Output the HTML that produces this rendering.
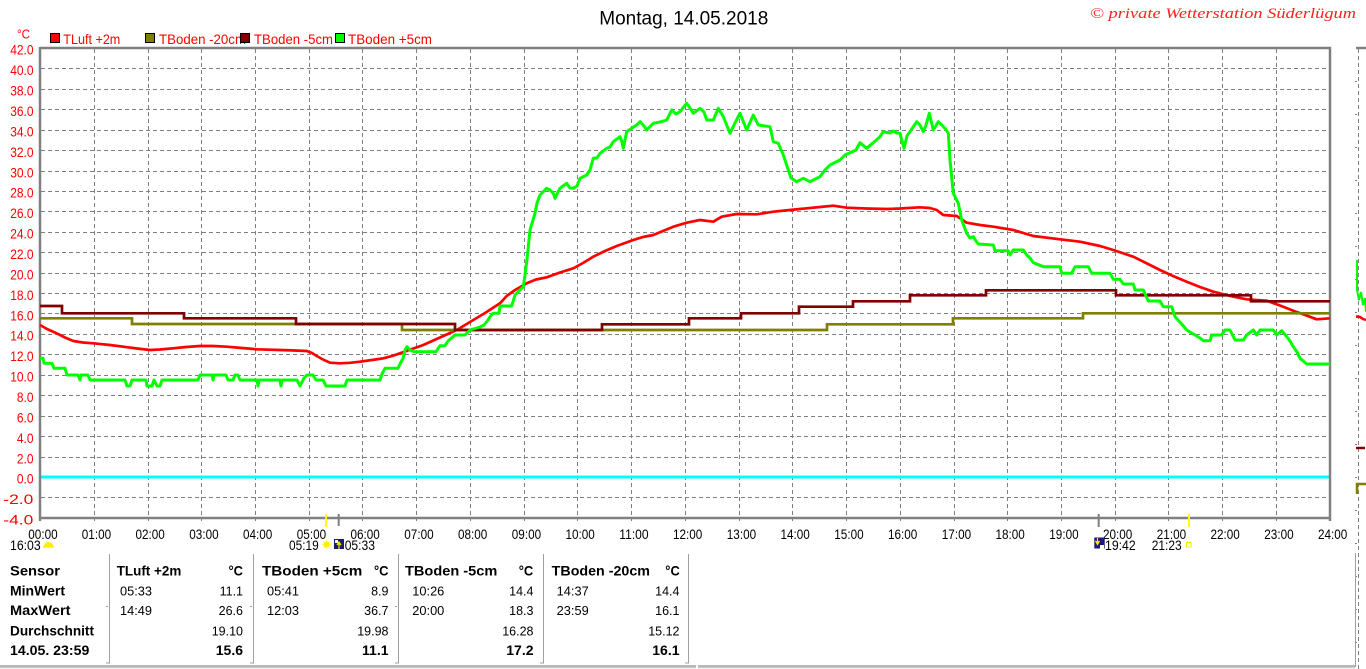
<!DOCTYPE html>
<html>
<head>
<meta charset="utf-8">
<style>
html,body{margin:0;padding:0;background:#fff;}
body{width:1366px;height:669px;overflow:hidden;}
svg{display:block;}
text{font-family:"Liberation Sans",Arial,sans-serif;}
</style>
</head>
<body>
<svg width="1366" height="669" viewBox="0 0 1366 669" xmlns="http://www.w3.org/2000/svg">
<rect x="0" y="0" width="1366" height="669" fill="#fff"/>

<!-- Title -->
<text x="599.3" y="24.5" font-size="19.5" fill="#000" textLength="169" lengthAdjust="spacingAndGlyphs">Montag, 14.05.2018</text>
<text x="1090" y="18" font-size="15" fill="#ff2020" font-style="italic" style="font-family:'Liberation Serif',serif" textLength="266" lengthAdjust="spacingAndGlyphs">© private Wetterstation Süderlügum</text>

<!-- unit -->
<text x="17" y="38.5" font-size="13" fill="#ff0000" textLength="13" lengthAdjust="spacingAndGlyphs">°C</text>

<!-- Legend -->
<rect x="50.5" y="33.5" width="9" height="9" fill="#ff0000" stroke="#000" stroke-width="1"/>
<text x="63.3" y="44" font-size="14" fill="#ff0000" textLength="57" lengthAdjust="spacingAndGlyphs">TLuft +2m</text>
<rect x="145.5" y="33.5" width="9" height="9" fill="#808000" stroke="#000" stroke-width="1"/>
<text x="159" y="44" font-size="14" fill="#ff0000" textLength="87" lengthAdjust="spacingAndGlyphs">TBoden -20cm</text>
<rect x="240.5" y="33.5" width="9" height="9" fill="#800000" stroke="#000" stroke-width="1"/>
<text x="254" y="44" font-size="14" fill="#ff0000" textLength="79" lengthAdjust="spacingAndGlyphs">TBoden -5cm</text>
<rect x="335.5" y="33.5" width="9" height="9" fill="#00ff00" stroke="#000" stroke-width="1"/>
<text x="348" y="44" font-size="14" fill="#ff0000" textLength="84" lengthAdjust="spacingAndGlyphs">TBoden +5cm</text>

<!-- Horizontal grid -->
<g stroke="#808080" stroke-width="1" stroke-dasharray="4,3" fill="none">
<line x1="41" y1="68.5" x2="1329" y2="68.5"/>
<line x1="41" y1="89.5" x2="1329" y2="89.5"/>
<line x1="41" y1="109.5" x2="1329" y2="109.5"/>
<line x1="41" y1="130.5" x2="1329" y2="130.5"/>
<line x1="41" y1="150.5" x2="1329" y2="150.5"/>
<line x1="41" y1="171.5" x2="1329" y2="171.5"/>
<line x1="41" y1="191.5" x2="1329" y2="191.5"/>
<line x1="41" y1="211.5" x2="1329" y2="211.5"/>
<line x1="41" y1="232.5" x2="1329" y2="232.5"/>
<line x1="41" y1="252.5" x2="1329" y2="252.5"/>
<line x1="41" y1="273.5" x2="1329" y2="273.5"/>
<line x1="41" y1="293.5" x2="1329" y2="293.5"/>
<line x1="41" y1="313.5" x2="1329" y2="313.5"/>
<line x1="41" y1="334.5" x2="1329" y2="334.5"/>
<line x1="41" y1="354.5" x2="1329" y2="354.5"/>
<line x1="41" y1="375.5" x2="1329" y2="375.5"/>
<line x1="41" y1="395.5" x2="1329" y2="395.5"/>
<line x1="41" y1="416.5" x2="1329" y2="416.5"/>
<line x1="41" y1="436.5" x2="1329" y2="436.5"/>
<line x1="41" y1="457.5" x2="1329" y2="457.5"/>
<line x1="41" y1="497.5" x2="1329" y2="497.5"/>
</g>
<!-- Vertical grid -->
<g stroke="#808080" stroke-width="1" stroke-dasharray="4,3" fill="none">
<line x1="94.5" y1="49" x2="94.5" y2="521"/>
<line x1="148.5" y1="49" x2="148.5" y2="521"/>
<line x1="201.5" y1="49" x2="201.5" y2="521"/>
<line x1="255.5" y1="49" x2="255.5" y2="521"/>
<line x1="309.5" y1="49" x2="309.5" y2="521"/>
<line x1="362.5" y1="49" x2="362.5" y2="521"/>
<line x1="416.5" y1="49" x2="416.5" y2="521"/>
<line x1="470.5" y1="49" x2="470.5" y2="521"/>
<line x1="524.5" y1="49" x2="524.5" y2="521"/>
<line x1="577.5" y1="49" x2="577.5" y2="521"/>
<line x1="631.5" y1="49" x2="631.5" y2="521"/>
<line x1="685.5" y1="49" x2="685.5" y2="521"/>
<line x1="739.5" y1="49" x2="739.5" y2="521"/>
<line x1="792.5" y1="49" x2="792.5" y2="521"/>
<line x1="846.5" y1="49" x2="846.5" y2="521"/>
<line x1="900.5" y1="49" x2="900.5" y2="521"/>
<line x1="954.5" y1="49" x2="954.5" y2="521"/>
<line x1="1007.5" y1="49" x2="1007.5" y2="521"/>
<line x1="1061.5" y1="49" x2="1061.5" y2="521"/>
<line x1="1115.5" y1="49" x2="1115.5" y2="521"/>
<line x1="1168.5" y1="49" x2="1168.5" y2="521"/>
<line x1="1222.5" y1="49" x2="1222.5" y2="521"/>
<line x1="1276.5" y1="49" x2="1276.5" y2="521"/>
</g>

<!-- zero line -->
<line x1="41" y1="477" x2="1329" y2="477" stroke="#00ffff" stroke-width="3"/>

<!-- Axes frame -->
<g stroke="#808080" stroke-width="2.5" fill="none">
<line x1="40" y1="48" x2="1331" y2="48"/>
<line x1="40" y1="47" x2="40" y2="521"/>
<line x1="40" y1="518" x2="1331" y2="518"/>
<line x1="1330" y1="47" x2="1330" y2="521"/>
</g>

<!-- Y labels -->
<g font-size="14" fill="#ff0000">
<text x="10.2" y="54.5" textLength="23.3" lengthAdjust="spacingAndGlyphs">42.0</text>
<text x="10.2" y="75" textLength="23.3" lengthAdjust="spacingAndGlyphs">40.0</text>
<text x="10.2" y="95.5" textLength="23.3" lengthAdjust="spacingAndGlyphs">38.0</text>
<text x="10.2" y="116" textLength="23.3" lengthAdjust="spacingAndGlyphs">36.0</text>
<text x="10.2" y="136.5" textLength="23.3" lengthAdjust="spacingAndGlyphs">34.0</text>
<text x="10.2" y="157" textLength="23.3" lengthAdjust="spacingAndGlyphs">32.0</text>
<text x="10.2" y="177.5" textLength="23.3" lengthAdjust="spacingAndGlyphs">30.0</text>
<text x="10.2" y="197.5" textLength="23.3" lengthAdjust="spacingAndGlyphs">28.0</text>
<text x="10.2" y="218" textLength="23.3" lengthAdjust="spacingAndGlyphs">26.0</text>
<text x="10.2" y="238.5" textLength="23.3" lengthAdjust="spacingAndGlyphs">24.0</text>
<text x="10.2" y="259" textLength="23.3" lengthAdjust="spacingAndGlyphs">22.0</text>
<text x="10.2" y="279.5" textLength="23.3" lengthAdjust="spacingAndGlyphs">20.0</text>
<text x="10.2" y="300" textLength="23.3" lengthAdjust="spacingAndGlyphs">18.0</text>
<text x="10.2" y="320.5" textLength="23.3" lengthAdjust="spacingAndGlyphs">16.0</text>
<text x="10.2" y="340.5" textLength="23.3" lengthAdjust="spacingAndGlyphs">14.0</text>
<text x="10.2" y="361" textLength="23.3" lengthAdjust="spacingAndGlyphs">12.0</text>
<text x="10.2" y="381.5" textLength="23.3" lengthAdjust="spacingAndGlyphs">10.0</text>
<text x="16.9" y="402" textLength="16.6" lengthAdjust="spacingAndGlyphs">8.0</text>
<text x="16.9" y="422.5" textLength="16.6" lengthAdjust="spacingAndGlyphs">6.0</text>
<text x="16.9" y="443" textLength="16.6" lengthAdjust="spacingAndGlyphs">4.0</text>
<text x="16.9" y="463.5" textLength="16.6" lengthAdjust="spacingAndGlyphs">2.0</text>
<text x="16.9" y="483.5" textLength="16.6" lengthAdjust="spacingAndGlyphs">0.0</text>
<text x="3.3" y="504" textLength="30" lengthAdjust="spacingAndGlyphs">-2.0</text>
<text x="3.3" y="524.5" textLength="30" lengthAdjust="spacingAndGlyphs">-4.0</text>
</g>

<!-- X labels -->
<g font-size="14" fill="#000">
<text x="28.3" y="539" textLength="29.3" lengthAdjust="spacingAndGlyphs">00:00</text>
<text x="81.8" y="539" textLength="29.3" lengthAdjust="spacingAndGlyphs">01:00</text>
<text x="135.5" y="539" textLength="29.3" lengthAdjust="spacingAndGlyphs">02:00</text>
<text x="189.3" y="539" textLength="29.3" lengthAdjust="spacingAndGlyphs">03:00</text>
<text x="243" y="539" textLength="29.3" lengthAdjust="spacingAndGlyphs">04:00</text>
<text x="296.8" y="539" textLength="29.3" lengthAdjust="spacingAndGlyphs">05:00</text>
<text x="350.5" y="539" textLength="29.3" lengthAdjust="spacingAndGlyphs">06:00</text>
<text x="404.3" y="539" textLength="29.3" lengthAdjust="spacingAndGlyphs">07:00</text>
<text x="458" y="539" textLength="29.3" lengthAdjust="spacingAndGlyphs">08:00</text>
<text x="511.8" y="539" textLength="29.3" lengthAdjust="spacingAndGlyphs">09:00</text>
<text x="565.5" y="539" textLength="29.3" lengthAdjust="spacingAndGlyphs">10:00</text>
<text x="619.3" y="539" textLength="29.3" lengthAdjust="spacingAndGlyphs">11:00</text>
<text x="673" y="539" textLength="29.3" lengthAdjust="spacingAndGlyphs">12:00</text>
<text x="726.8" y="539" textLength="29.3" lengthAdjust="spacingAndGlyphs">13:00</text>
<text x="780.5" y="539" textLength="29.3" lengthAdjust="spacingAndGlyphs">14:00</text>
<text x="834.3" y="539" textLength="29.3" lengthAdjust="spacingAndGlyphs">15:00</text>
<text x="888" y="539" textLength="29.3" lengthAdjust="spacingAndGlyphs">16:00</text>
<text x="941.8" y="539" textLength="29.3" lengthAdjust="spacingAndGlyphs">17:00</text>
<text x="995.5" y="539" textLength="29.3" lengthAdjust="spacingAndGlyphs">18:00</text>
<text x="1049.3" y="539" textLength="29.3" lengthAdjust="spacingAndGlyphs">19:00</text>
<text x="1103" y="539" textLength="29.3" lengthAdjust="spacingAndGlyphs">20:00</text>
<text x="1156.8" y="539" textLength="29.3" lengthAdjust="spacingAndGlyphs">21:00</text>
<text x="1210.5" y="539" textLength="29.3" lengthAdjust="spacingAndGlyphs">22:00</text>
<text x="1264.3" y="539" textLength="29.3" lengthAdjust="spacingAndGlyphs">23:00</text>
<text x="1318" y="539" textLength="29.3" lengthAdjust="spacingAndGlyphs">24:00</text>
</g>

<!-- sun/moon ticks -->
<line x1="326" y1="514" x2="326" y2="527" stroke="#ffff00" stroke-width="2"/>
<line x1="338.7" y1="514" x2="338.7" y2="526" stroke="#808080" stroke-width="2"/>
<line x1="1098.7" y1="514" x2="1098.7" y2="527" stroke="#808080" stroke-width="2"/>
<line x1="1189" y1="514" x2="1189" y2="527" stroke="#ffff00" stroke-width="2"/>

<!-- sun/moon labels -->
<g font-size="14" fill="#000">
<text x="10" y="550" textLength="30.7" lengthAdjust="spacingAndGlyphs">16:03</text>
<text x="289" y="550" textLength="29.7" lengthAdjust="spacingAndGlyphs">05:19</text>
<text x="344.7" y="550" textLength="30.3" lengthAdjust="spacingAndGlyphs">05:33</text>
<text x="1105" y="550" textLength="30.7" lengthAdjust="spacingAndGlyphs">19:42</text>
<text x="1151.7" y="550" textLength="30" lengthAdjust="spacingAndGlyphs">21:23</text>
</g>
<path d="M43.5,547 A5,5 0 0 1 53.5,547 Z" fill="#ffee00"/>
<line x1="43" y1="547" x2="54" y2="547" stroke="#ffee00" stroke-width="1.5"/>
<circle cx="326.5" cy="544.5" r="2.8" fill="#ffee00"/>
<g stroke="#ffee00" stroke-width="1">
<line x1="322.5" y1="544.5" x2="330.5" y2="544.5"/>
<line x1="326.5" y1="540.5" x2="326.5" y2="548.5"/>
<line x1="323.5" y1="541.5" x2="329.5" y2="547.5"/>
<line x1="329.5" y1="541.5" x2="323.5" y2="547.5"/>
</g>
<rect x="334" y="539" width="10" height="10" fill="#1a1a7a"/>
<rect x="335" y="540" width="3" height="3" fill="#fff"/>
<path d="M339,549 L339,543 L337,545 L339,542 L341,545 L339,543" stroke="#ffee00" stroke-width="1.2" fill="none"/>
<rect x="1094.3" y="537.5" width="10.4" height="11" fill="#1a1a7a"/>
<path d="M1097.5,538 L1097.5,543 L1095.5,541 L1097.5,544.5 L1099.5,541 L1097.5,543" stroke="#ffee00" stroke-width="1.2" fill="none"/>
<rect x="1100" y="545" width="4" height="4" fill="#fff"/>
<rect x="1186.5" y="542.5" width="4.5" height="4.5" fill="none" stroke="#ffee00" stroke-width="1"/>

<!-- Series: TLuft +2m (red) -->
<polyline fill="none" stroke="#ff0000" stroke-width="2.7" stroke-linejoin="round" points="40,325 47,329 56.7,333.3 65,337.5 73.3,341 83,342.5 93.3,343.3 110,345 123.3,346.7 137,348.5 150,350 160,349.5 173,348.3 186,347 200,346 213,346 226.7,346.7 242,348 256.7,349.3 280,350 295,350.5 306.7,351 312,353 316.7,356 323,359.5 330,362.7 340,363.3 350,362.8 360,361.7 372,360 383.3,358.3 392,356 400,353.3 412,349 423.3,345 440,337.5 456.7,330 470,322 485,313 500,303.3 506.7,296 515,290 526.7,283.3 536,279.5 546.7,277.3 560,272.5 573.3,268.3 583,263 593.3,256.7 605,251 616.7,246 625,243 633.3,240 643,237 653.3,235 663,231 673.3,226.7 686.7,222.7 700,220 713.3,221.7 721.7,216.7 736.7,214 756.7,214.3 773.3,211.7 790,210 806.7,208.3 820,207 833.3,205.7 846.7,207.7 866,208.5 886.7,209 900,208.5 920,207.3 930,208 936.7,210 943.3,215 956.7,216 966.7,222.7 980,225 993.3,226.7 1013.3,230 1033.3,236 1060,239.3 1080,241.7 1100,246 1113.3,250 1133.3,256.7 1146,263 1160,270 1173,276 1186.7,281.7 1200,287 1213.3,291.7 1233.3,296.7 1246.7,299.3 1266.7,300.7 1280,305.5 1293.3,310.7 1305,315 1316.7,319.3 1330,318.3"/>

<!-- Series: TBoden -20cm (olive) -->
<polyline fill="none" stroke="#808000" stroke-width="2.7" points="40,318.3 132,318.3 132,324 402,324 402,330 827,330 827,324.3 953,324.3 953,318.3 1083,318.3 1083,313.3 1330,313.3"/>

<!-- Series: TBoden -5cm (dark red) -->
<polyline fill="none" stroke="#800000" stroke-width="2.7" points="40,306 62,306 62,313.3 184,313.3 184,318.3 296,318.3 296,324 455,324 455,330 602,330 602,324.3 689,324.3 689,318.3 741,318.3 741,313.3 799,313.3 799,306.7 853,306.7 853,301.3 910,301.3 910,295.3 986,295.3 986,290.3 1116,290.3 1116,295.3 1251,295.3 1251,301.3 1330,301.3"/>

<!-- Series: TBoden +5cm (green) -->
<polyline fill="none" stroke="#00ff00" stroke-width="3" stroke-linejoin="round" points="40,358.3 43,358.3 44,363.3 52,363.3 54,368.3 65,368.3 67,375 78,375 80,380 81,375 88,375 90,380 125,380 127,386 130,386 132,380 146,380 147,386 152,386 154,380 157,386 160,386 162,380 198,380 200,375 212,375 213,380 214,375 226,375 228,380 233,380 235,375 238,375 240,380 257,380 258,386 259,380 280,380 281,386 282,380 297,380 300,386 304,378 307,375 313,375 316,380 323,380 326,386 345,386 347,380 380,380 382,374 385,368.3 398,368.3 400,364 403,358.3 405,350 407,346.7 410,350 414,351.7 436,351.7 440,345.7 445,345.7 448,341 455,335 465,335 470,330 480,327 484,325 488,320 490,316.7 493,313.3 499,313.3 500,306 511.7,306 515,295 523.3,286.7 525,275 527.3,256.7 530,230 535,213.3 537,203 540,195 546.7,188.3 550,190 553.3,193.3 555,198.3 558,192 560,188.3 566.7,183.3 570,188 573.3,188.3 577,186 580,178.3 586.7,175 590,170 593.3,158.3 597,158 600,153.3 606.7,148.3 610,147 613.3,141.7 620,136.7 622,142 623.3,148.3 626.7,131.7 632,128 636.7,125 640,121.7 644,126 646.7,130 653.3,123.3 660,122 666.7,120 671.7,110 676,114 680,111.7 686.7,103.3 690,108 693.3,113.3 700,108.3 704,112 706.7,120 713.3,120 718.3,108.3 723.3,116.7 730,133.3 735,123 740,113.3 746.7,130 753.3,115 758.3,125 770,126.7 773.3,141.7 778.3,143.3 783.3,155 788.3,170 791,178 796.7,181.7 803.3,178.3 810,181.7 820,176.7 825,170 830,165 840,160 845,155 850,152.7 856,150 860,142.7 866.7,148.3 873.3,142.7 880,136.7 883.3,131.7 890,133 893,131 897,133 900,133.3 904,148.3 907,136 910,131.7 916.7,121.7 920,125 923.3,131.7 926,125 929.3,113.3 933.3,130 938.3,121.7 945,128.3 948.3,133.3 950,160 953.3,193.3 958.3,203.3 961.7,220 966.7,233.3 970,238 973.3,236.7 976,241 978.3,244 993.3,245 995,250.7 1008.3,250.7 1010,255 1013.3,250 1023.3,250 1026.7,255 1030,258 1033.3,262.7 1043.3,266.7 1060,266.7 1061.7,273.3 1071.7,273.3 1075,266.7 1088.3,266.7 1091.7,273.3 1110,273.3 1113.3,279.3 1120,279.3 1123.3,284 1133.3,284 1135,290 1143.3,290 1148.3,301 1160,301 1163.3,306.7 1171.7,306.7 1175,316.7 1178,320 1181.7,324 1186.7,330 1195,335 1200,338 1203.3,340.7 1210,340.7 1211.7,335 1221.7,335 1225,330 1230,330 1235,340 1243.3,340 1246.7,335 1253.3,330 1256.7,335 1260,330 1273.3,330 1276.7,335 1281.7,330.7 1286.7,336.7 1290,341 1293.3,346.7 1297,352 1300,358.3 1306.7,364 1330,364"/>

<!-- Right strip -->
<line x1="1356" y1="48" x2="1366" y2="48" stroke="#808080" stroke-width="2.5"/>
<line x1="1358.5" y1="49" x2="1358.5" y2="669" stroke="#808080" stroke-width="1" stroke-dasharray="4,3"/>
<g stroke="#808080" stroke-width="1">
<line x1="1355" y1="81.5" x2="1357" y2="81.5"/>
<line x1="1355" y1="114.5" x2="1357" y2="114.5"/>
<line x1="1355" y1="147.5" x2="1357" y2="147.5"/>
<line x1="1355" y1="180.5" x2="1357" y2="180.5"/>
<line x1="1355" y1="213.5" x2="1357" y2="213.5"/>
<line x1="1355" y1="246.5" x2="1357" y2="246.5"/>
<line x1="1355" y1="279.5" x2="1357" y2="279.5"/>
<line x1="1355" y1="312.5" x2="1357" y2="312.5"/>
<line x1="1355" y1="345.5" x2="1357" y2="345.5"/>
<line x1="1355" y1="378.5" x2="1357" y2="378.5"/>
<line x1="1355" y1="411.5" x2="1357" y2="411.5"/>
<line x1="1355" y1="444.5" x2="1357" y2="444.5"/>
<line x1="1355" y1="477.5" x2="1357" y2="477.5"/>
<line x1="1355" y1="510.5" x2="1357" y2="510.5"/>
<line x1="1355" y1="543.5" x2="1357" y2="543.5"/>
<line x1="1355" y1="576.5" x2="1357" y2="576.5"/>
<line x1="1355" y1="609.5" x2="1357" y2="609.5"/>
<line x1="1355" y1="642.5" x2="1357" y2="642.5"/>
</g>
<polyline fill="none" stroke="#00ff00" stroke-width="2" points="1357,260 1357,290 1359,300 1361,292 1363,305 1365,298 1366,312"/>
<polyline fill="none" stroke="#ff0000" stroke-width="2.5" points="1356,316.5 1360,317 1363,319 1366,320"/>
<line x1="1356" y1="448" x2="1365" y2="448" stroke="#800000" stroke-width="2.5"/>
<polyline fill="none" stroke="#808000" stroke-width="2.5" points="1366,484 1357,484 1357,494"/>

<!-- Table lines -->
<g stroke="#a0a0a0" stroke-width="1" fill="none">
<polyline points="109.5,554 109.5,663 106,663"/>
<polyline points="253.5,554 253.5,663 250,663"/>
<polyline points="398.5,554 398.5,663 395,663"/>
<polyline points="543.5,554 543.5,663 540,663"/>
<polyline points="688.5,554 688.5,663 685,663"/>
<line x1="1355.5" y1="553" x2="1355.5" y2="667"/>
<line x1="106" y1="606.5" x2="108" y2="606.5"/>
<line x1="250" y1="606.5" x2="252" y2="606.5"/>
<line x1="395" y1="606.5" x2="397" y2="606.5"/>
</g>
<line x1="0" y1="666" x2="696" y2="666" stroke="#a0a0a0" stroke-width="1.5"/>
<line x1="0" y1="667.5" x2="696" y2="667.5" stroke="#c8c8c8" stroke-width="1.5"/>
<line x1="698" y1="666" x2="1355" y2="666" stroke="#a0a0a0" stroke-width="1.5"/>
<line x1="698" y1="667.5" x2="1355" y2="667.5" stroke="#c8c8c8" stroke-width="1.5"/>

<!-- Table text: bold labels -->
<g font-size="13.5" font-weight="bold" fill="#000">
<text x="10" y="575.5" textLength="50" lengthAdjust="spacingAndGlyphs">Sensor</text>
<text x="10" y="595.5" textLength="55" lengthAdjust="spacingAndGlyphs">MinWert</text>
<text x="10" y="615" textLength="60.5" lengthAdjust="spacingAndGlyphs">MaxWert</text>
<text x="10" y="635.5" textLength="84" lengthAdjust="spacingAndGlyphs">Durchschnitt</text>
<text x="10" y="655" textLength="79.3" lengthAdjust="spacingAndGlyphs">14.05. 23:59</text>

<text x="116.7" y="575.5" textLength="64.6" lengthAdjust="spacingAndGlyphs">TLuft +2m</text>
<text x="228.5" y="575.5" textLength="14.5" lengthAdjust="spacingAndGlyphs">°C</text>
<text x="262" y="575.5" textLength="100.3" lengthAdjust="spacingAndGlyphs">TBoden +5cm</text>
<text x="374" y="575.5" textLength="14.5" lengthAdjust="spacingAndGlyphs">°C</text>
<text x="405" y="575.5" textLength="92.3" lengthAdjust="spacingAndGlyphs">TBoden -5cm</text>
<text x="518.7" y="575.5" textLength="14.5" lengthAdjust="spacingAndGlyphs">°C</text>
<text x="551.7" y="575.5" textLength="98.3" lengthAdjust="spacingAndGlyphs">TBoden -20cm</text>
<text x="665.3" y="575.5" textLength="14.5" lengthAdjust="spacingAndGlyphs">°C</text>
</g>
<g font-size="14" font-weight="bold" fill="#000" text-anchor="end">
<text x="243" y="655">15.6</text>
<text x="388.5" y="655">11.1</text>
<text x="533.5" y="655">17.2</text>
<text x="679.5" y="655">16.1</text>
</g>
<!-- normal values -->
<g font-size="12.5" fill="#000">
<text x="120" y="595.5" textLength="32" lengthAdjust="spacingAndGlyphs">05:33</text>
<text x="120" y="615" textLength="32" lengthAdjust="spacingAndGlyphs">14:49</text>
<text x="267" y="595.5" textLength="32" lengthAdjust="spacingAndGlyphs">05:41</text>
<text x="267" y="615" textLength="32" lengthAdjust="spacingAndGlyphs">12:03</text>
<text x="412.3" y="595.5" textLength="32" lengthAdjust="spacingAndGlyphs">10:26</text>
<text x="412.3" y="615" textLength="32" lengthAdjust="spacingAndGlyphs">20:00</text>
<text x="556.7" y="595.5" textLength="32" lengthAdjust="spacingAndGlyphs">14:37</text>
<text x="556.7" y="615" textLength="32" lengthAdjust="spacingAndGlyphs">23:59</text>
</g>
<g font-size="12.5" fill="#000" text-anchor="end">
<text x="243" y="595.5">11.1</text>
<text x="243" y="615">26.6</text>
<text x="243" y="635.5">19.10</text>
<text x="388.5" y="595.5">8.9</text>
<text x="388.5" y="615">36.7</text>
<text x="388.5" y="635.5">19.98</text>
<text x="533.5" y="595.5">14.4</text>
<text x="533.5" y="615">18.3</text>
<text x="533.5" y="635.5">16.28</text>
<text x="679.5" y="595.5">14.4</text>
<text x="679.5" y="615">16.1</text>
<text x="679.5" y="635.5">15.12</text>
</g>
</svg>
</body>
</html>
